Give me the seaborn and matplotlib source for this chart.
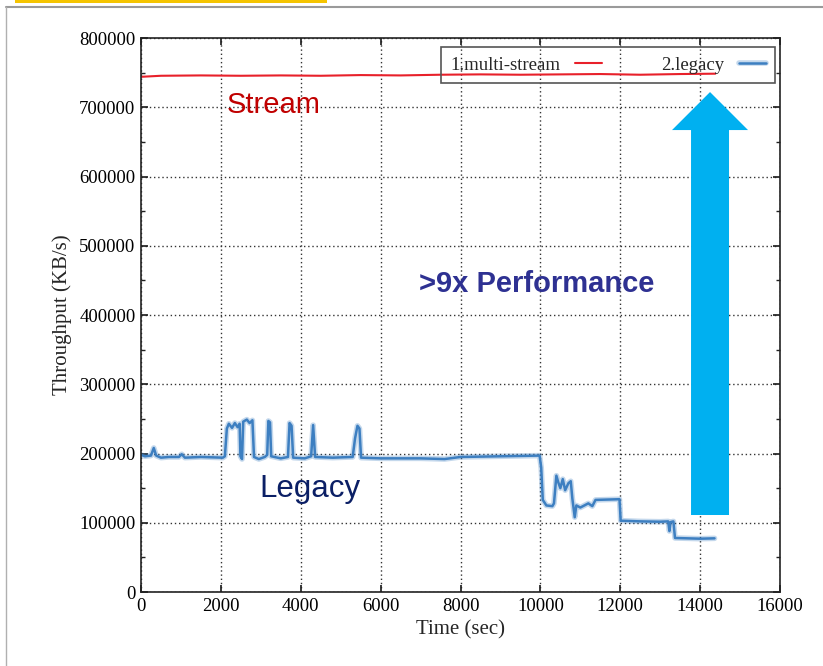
import matplotlib
matplotlib.use("Agg")
import matplotlib.pyplot as plt
import matplotlib.patheffects as pe
import seaborn as sns
from matplotlib.patches import Rectangle
from matplotlib.lines import Line2D

# Data
stream_time = [0, 500, 1500, 2500, 3500, 4500, 5500, 6500, 7500, 8500,
               9500, 10500, 11500, 12500, 13500, 14380]
stream_kbs = [744000, 745500, 746000, 745500, 746000, 745500, 746500, 746000,
              747000, 747500, 747000, 747500, 748000, 747000, 748000, 748500]

legacy_time = [0, 100, 250, 320, 380, 500, 700, 950, 1020, 1100, 1500,
               2050, 2100, 2150, 2200, 2280, 2350, 2420, 2470, 2490, 2530,
               2560, 2650, 2720, 2790, 2830, 2950, 3100, 3160, 3190, 3230,
               3260, 3500, 3680, 3720, 3770, 3810, 4100, 4260, 4310, 4360,
               4800, 5300, 5360, 5420, 5470, 5510, 6000, 7000, 7600, 8000,
               9000, 9980, 10020, 10060, 10150, 10300, 10340, 10400, 10450,
               10500, 10560, 10620, 10700, 10760, 10800, 10860, 10900, 11000,
               11100, 11200, 11300, 11380, 11980, 12010, 12500, 13000, 13200,
               13230, 13260, 13330, 13370, 14000, 14360]
legacy_kbs = [198000, 196000, 197000, 208000, 197000, 194000, 195000, 195000,
              199000, 194000, 195000, 194000, 196000, 236000, 243000, 237000,
              244000, 238000, 243000, 196000, 192000, 246000, 249000, 244000,
              248000, 195000, 192000, 195000, 198000, 247000, 245000, 196000,
              193000, 195000, 244000, 240000, 194000, 193000, 196000, 241000,
              195000, 194000, 195000, 222000, 240000, 236000, 194000, 193000,
              193000, 192000, 195000, 196000, 197000, 180000, 133000, 125000,
              124000, 128000, 168000, 158000, 150000, 163000, 147000, 157000,
              160000, 135000, 108000, 125000, 122000, 125000, 128000, 124000,
              133000, 134000, 103000, 102000, 101500, 102000, 88000, 101000,
              102000, 78000, 77000, 77500]

x_ticks = list(range(0, 16001, 2000))
y_ticks = list(range(0, 800001, 100000))

sns.set_theme(style="ticks")
plt.rcParams["font.family"] = ["Liberation Serif", "DejaVu Serif"]

fig = plt.figure(figsize=(8.23, 6.66), dpi=100)
ax = fig.add_axes([0.1713, 0.1111, 0.7765, 0.8318])

sns.lineplot(x=stream_time, y=stream_kbs, ax=ax, color="#e8202a", lw=1.5,
             estimator=None, sort=False, label="1.multi-stream")
sns.lineplot(x=legacy_time, y=legacy_kbs, ax=ax, color="#3d7fc1", lw=1.8,
             estimator=None, sort=False, label="2.legacy")
# soft halo around the legacy trace, like the noisy original
ax.lines[1].set_path_effects([pe.Stroke(linewidth=4, foreground="#3d7fc1", alpha=0.3),
                              pe.Normal()])

ax.set_xlim(0, 16000)
ax.set_ylim(0, 800000)
ax.set_xticks(x_ticks)
ax.set_yticks(y_ticks)
ax.set_yticks(list(range(50000, 800000, 100000)), minor=True)
ax.ticklabel_format(style="plain", useOffset=False)
ax.tick_params(which="both", direction="in", top=True, right=True,
               colors="#222222", labelcolor="black", labelsize=13.5)
ax.tick_params(which="major", length=5, pad=4)
ax.tick_params(which="minor", length=3)
ax.grid(True, which="major", linestyle=(0, (1, 2)), color="#333333", lw=1)
for sp in ax.spines.values():
    sp.set_visible(True)
    sp.set_color("#222222")
    sp.set_linewidth(1.2)

ax.set_xlabel("Time (sec)", fontsize=15, labelpad=4)
ax.set_ylabel("Throughput (KB/s)", fontsize=15, labelpad=5)

leg = ax.legend(loc="lower left", bbox_to_anchor=(0.4695, 0.9188, 0.5227, 0.0668),
                mode="expand", ncol=2, markerfirst=False, borderaxespad=0,
                borderpad=0.5, fontsize=13.5, handlelength=1.4, fancybox=False,
                framealpha=1, edgecolor="#555555")
leg.get_frame().set_facecolor("none")
leg.get_frame().set_linewidth(1.2)

# annotations
ax.text(2153, 691700, "Stream", color="#c00000", fontsize=21,
        family="Liberation Sans", va="baseline")
ax.text(6961, 433200, ">9x Performance", color="#2e3192", fontsize=21,
        fontweight="bold", family="Liberation Sans", va="baseline")
ax.text(2955, 137200, "Legacy", color="#0b1f65", fontsize=22.5,
        family="Liberation Sans", va="baseline")
ax.arrow(14247, 111200, 0, 722000 - 111200, width=951, head_width=1903,
         head_length=54900, length_includes_head=True, color="#00b0f0", lw=0,
         zorder=5)

# slide frame decorations
fig.add_artist(Rectangle((15 / 823, 1 - 3 / 666), 312 / 823, 3 / 666,
                         transform=fig.transFigure, color="#f5c400", lw=0))
fig.add_artist(Line2D([6 / 823, 1], [1 - 7 / 666, 1 - 7 / 666],
                      transform=fig.transFigure, color="#9a9a9a", lw=1.5))
fig.add_artist(Line2D([6 / 823, 6 / 823], [0, 1 - 7 / 666],
                      transform=fig.transFigure, color="#b0b0b0", lw=1))

fig.savefig("out.png", dpi=100, facecolor="white")
